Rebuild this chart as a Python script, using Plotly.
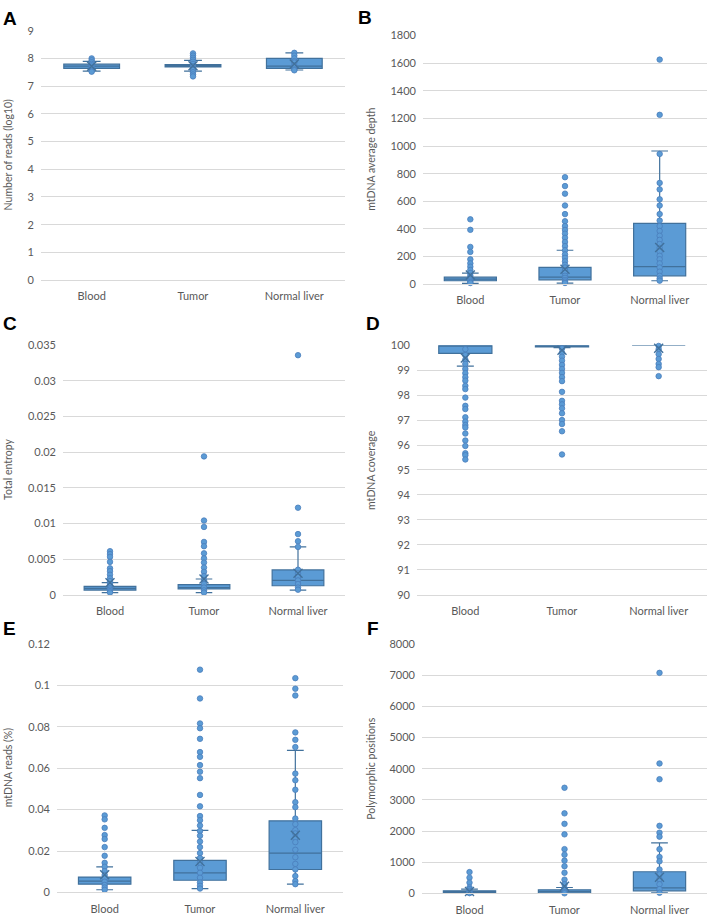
import plotly.graph_objects as go

categories = ["Blood", "Tumor", "Normal liver"]

# ---- Panel A: Number of reads (log10)
a_q1 = [7.64, 7.69, 7.64]
a_med = [7.72, 7.74, 7.72]
a_q3 = [7.79, 7.78, 8.0]
a_lo = [7.54, 7.54, 7.58]
a_hi = [7.89, 7.93, 8.2]
a_mean = [7.72, 7.73, 7.8]
a_pts = {
    "Blood": [8.0, 7.93, 7.86, 7.8, 7.75, 7.7, 7.65, 7.6, 7.55, 7.52],
    "Tumor": [8.18, 8.1, 8.02, 7.95, 7.88, 7.8, 7.72, 7.65, 7.58, 7.5, 7.42, 7.35],
    "Normal liver": [8.2, 8.1, 8.0, 7.9, 7.85, 7.75, 7.7, 7.6, 7.57],
}

# ---- Panel B: mtDNA average depth
b_q1 = [24, 31, 60]
b_med = [36, 50, 126]
b_q3 = [50, 121, 440]
b_lo = [5, 7, 24]
b_hi = [79, 245, 964]
b_mean = [65, 107, 265]
b_pts = {
    "Blood": [469, 393, 269, 233, 179, 150, 126, 102, 80, 60, 45, 35, 25, 15, 8],
    "Tumor": [774, 710, 655, 569, 507, 455, 420, 392, 365, 335, 305, 275, 245,
              215, 190, 165, 140, 120, 100, 80, 60, 45, 30, 18, 8],
    "Normal liver": [1626, 1226, 943, 733, 686, 614, 569, 507, 460, 420, 385, 350,
                     320, 290, 262, 235, 205, 180, 150, 120, 90, 60, 40, 25],
}

# ---- Panel C: Total entropy
c_q1 = [0.00065, 0.0008, 0.00125]
c_med = [0.00088, 0.001, 0.002]
c_q3 = [0.00116, 0.0014, 0.00347]
c_lo = [0.0003, 0.0003, 0.00065]
c_hi = [0.0017, 0.0022, 0.0067]
c_mean = [0.00166, 0.0022, 0.003]
c_pts = {
    "Blood": [0.0061, 0.0057, 0.0053, 0.0046, 0.0037, 0.0033, 0.0028, 0.0023,
              0.0019, 0.0015, 0.0012, 0.0009, 0.0007, 0.0005, 0.0003],
    "Tumor": [0.0194, 0.0104, 0.0095, 0.0074, 0.0068, 0.0058, 0.0051, 0.0045,
              0.0038, 0.0032, 0.0026, 0.002, 0.0015, 0.001, 0.0006, 0.0003],
    "Normal liver": [0.0336, 0.0122, 0.0085, 0.0075, 0.0067, 0.0035, 0.003,
                     0.0025, 0.002, 0.0015, 0.001, 0.0007],
}

# ---- Panel D: mtDNA coverage
d_q1 = [99.67, 99.93, 100.0]
d_med = [100.0, 100.0, 100.0]
d_q3 = [100.0, 100.0, 100.0]
d_lo = [99.16, 99.9, 100.0]
d_hi = [100.0, 100.0, 100.0]
d_mean = [99.49, 99.8, 99.88]
d_pts = {
    "Blood": [99.84, 99.6, 99.42, 99.25, 99.05, 98.88, 98.72, 98.58, 98.37, 98.24,
              97.9, 97.57, 97.44, 97.11, 96.94, 96.8, 96.7, 96.46, 96.18, 95.96,
              95.67, 95.59, 95.42],
    "Tumor": [99.87, 99.7, 99.54, 99.38, 99.21, 99.05, 98.89, 98.72, 98.56, 98.13,
              97.77, 97.63, 97.47, 97.27, 97.0, 96.84, 96.55, 95.62],
    "Normal liver": [99.97, 99.84, 99.64, 99.45, 99.25, 99.12, 98.76],
}

# ---- Panel E: mtDNA reads (%)
e_q1 = [0.004, 0.0059, 0.0111]
e_med = [0.0055, 0.0095, 0.019]
e_q3 = [0.00745, 0.0155, 0.0346]
e_lo = [0.0013, 0.0019, 0.004]
e_hi = [0.0124, 0.030, 0.0686]
e_mean = [0.0086, 0.0149, 0.0276]
e_pts = {
    "Blood": [0.0372, 0.0353, 0.0312, 0.0277, 0.0258, 0.0219, 0.0177, 0.0143,
              0.0124, 0.0103, 0.0084, 0.0068, 0.0052, 0.0036, 0.0024, 0.0013],
    "Tumor": [0.1076, 0.0937, 0.0816, 0.0793, 0.0742, 0.0678, 0.0655, 0.0615,
              0.0583, 0.0552, 0.0471, 0.0416, 0.0369, 0.0349, 0.0323, 0.0297,
              0.0274, 0.0246, 0.0219, 0.019, 0.0166, 0.0143, 0.0119, 0.0095,
              0.0071, 0.0048, 0.0032, 0.0019],
    "Normal liver": [0.1035, 0.0984, 0.0951, 0.0773, 0.0737, 0.0702, 0.0574,
                     0.0542, 0.0496, 0.0436, 0.0412, 0.0357, 0.033, 0.0301,
                     0.0285, 0.0262, 0.0243, 0.0206, 0.017, 0.0138, 0.0111,
                     0.0079, 0.0055, 0.004],
}

# ---- Panel F: Polymorphic positions
f_q1 = [21, 21, 84]
f_med = [53, 63, 179]
f_q3 = [84, 116, 695]
f_lo = [0, 0, 21]
f_hi = [137, 190, 1621]
f_mean = [60, 230, 520]
f_pts = {
    "Blood": [684, 505, 347, 190, 137, 84, 40, 10],
    "Tumor": [3389, 2568, 2232, 1895, 1421, 1242, 1053, 874, 663, 442, 295, 168,
              100, 40, 5],
    "Normal liver": [7074, 4168, 3663, 2168, 1947, 1821, 1421, 1168, 1032, 768,
                     610, 453, 295, 137, 21],
}

panels = [
    dict(letter="A", title="Number of reads (log10)", q1=a_q1, med=a_med, q3=a_q3,
         lo=a_lo, hi=a_hi, mean=a_mean, pts=a_pts, rng=[0, 9], dtick=1),
    dict(letter="B", title="mtDNA average depth", q1=b_q1, med=b_med, q3=b_q3,
         lo=b_lo, hi=b_hi, mean=b_mean, pts=b_pts, rng=[0, 1800], dtick=200),
    dict(letter="C", title="Total entropy", q1=c_q1, med=c_med, q3=c_q3,
         lo=c_lo, hi=c_hi, mean=c_mean, pts=c_pts, rng=[0, 0.035], dtick=0.005),
    dict(letter="D", title="mtDNA coverage", q1=d_q1, med=d_med, q3=d_q3,
         lo=d_lo, hi=d_hi, mean=d_mean, pts=d_pts, rng=[90, 100], dtick=1),
    dict(letter="E", title="mtDNA reads (%)", q1=e_q1, med=e_med, q3=e_q3,
         lo=e_lo, hi=e_hi, mean=e_mean, pts=e_pts, rng=[0, 0.12], dtick=0.02),
    dict(letter="F", title="Polymorphic positions", q1=f_q1, med=f_med, q3=f_q3,
         lo=f_lo, hi=f_hi, mean=f_mean, pts=f_pts, rng=[0, 8000], dtick=1000),
]

# The page is a bit taller than the 922px window; the window shows the top 922px.
W, H = 709, 931
# plot-area pixel boxes: (left, right, top, bottom)
boxes = [
    (41, 345, 24, 277),
    (423, 707, 29, 281),
    (63, 345, 343, 596),
    (417, 707, 343, 596),
    (57, 343, 646, 898),
    (422, 707, 646, 899),
]
title_x = [8, 371, 8, 371, 8, 371]
letter_pos = [(3, 12), (358, 11), (3, 321), (366, 321), (3, 630), (367, 630)]

BLUE = "#5B9BD5"
DARK = "#41719C"
GRID = "#D9D9D9"
TXT = "#595959"
FONT = "Lato"

fig = go.Figure()
layout = dict(width=W, height=H, margin=dict(l=0, r=0, t=0, b=0),
              paper_bgcolor="white", plot_bgcolor="white", showlegend=False,
              font=dict(family=FONT, color=TXT, size=11), annotations=[])

for i, p in enumerate(panels):
    n = "" if i == 0 else str(i + 1)
    xa, ya = "x" + n, "y" + n
    l, r, t, b = boxes[i]
    fig.add_trace(go.Box(
        x=categories, q1=p["q1"], median=p["med"], q3=p["q3"],
        lowerfence=p["lo"], upperfence=p["hi"], boxpoints=False,
        width=0.55, whiskerwidth=0.32, fillcolor=BLUE,
        line=dict(color=DARK, width=1.2), xaxis=xa, yaxis=ya, hoverinfo="y"))
    for cat in categories:
        vals = p["pts"][cat]
        fig.add_trace(go.Scatter(
            x=[cat] * len(vals), y=vals, mode="markers", xaxis=xa, yaxis=ya,
            marker=dict(color=BLUE, size=5.5, line=dict(color="#4A7EBB", width=0.8)),
            cliponaxis=False))
    fig.add_trace(go.Scatter(
        x=categories, y=p["mean"], mode="markers", xaxis=xa, yaxis=ya,
        marker=dict(symbol="x-thin", size=9, line=dict(color=DARK, width=1.4)),
        cliponaxis=False))
    layout["xaxis" + n] = dict(
        domain=[l / W, r / W], anchor=ya, type="category",
        categoryorder="array", categoryarray=categories, range=[-0.5, 2.5],
        showline=True, linecolor=GRID, linewidth=1, showgrid=False,
        ticks="", ticklabelstandoff=6, tickfont=dict(family=FONT, size=11, color=TXT),
        fixedrange=True)
    layout["yaxis" + n] = dict(
        domain=[1 - b / H, 1 - t / H], anchor=xa, range=p["rng"], dtick=p["dtick"],
        tick0=p["rng"][0], showgrid=True, gridcolor=GRID, gridwidth=1,
        zeroline=False, showline=False, ticks="", ticklabelstandoff=6,
        tickfont=dict(family=FONT, size=11, color=TXT), fixedrange=True)
    layout["annotations"].append(dict(
        text=p["title"], textangle=-90, xref="paper", yref="paper",
        x=title_x[i] / W, y=1 - (t + b) / 2 / H, xanchor="center", yanchor="middle",
        showarrow=False, font=dict(family=FONT, size=10.5, color=TXT)))
    lx, ly = letter_pos[i]
    layout["annotations"].append(dict(
        text="<b>" + p["letter"] + "</b>", xref="paper", yref="paper",
        x=lx / W, y=1 - ly / H, xanchor="left", yanchor="middle", showarrow=False,
        xshift=-2, font=dict(family="Liberation Sans", size=19, color="black")))

fig.update_layout(**layout)
fig.write_html("out.html", config={"displayModeBar": False},
               post_script="document.body.style.margin='0';document.body.style.overflow='hidden';")
